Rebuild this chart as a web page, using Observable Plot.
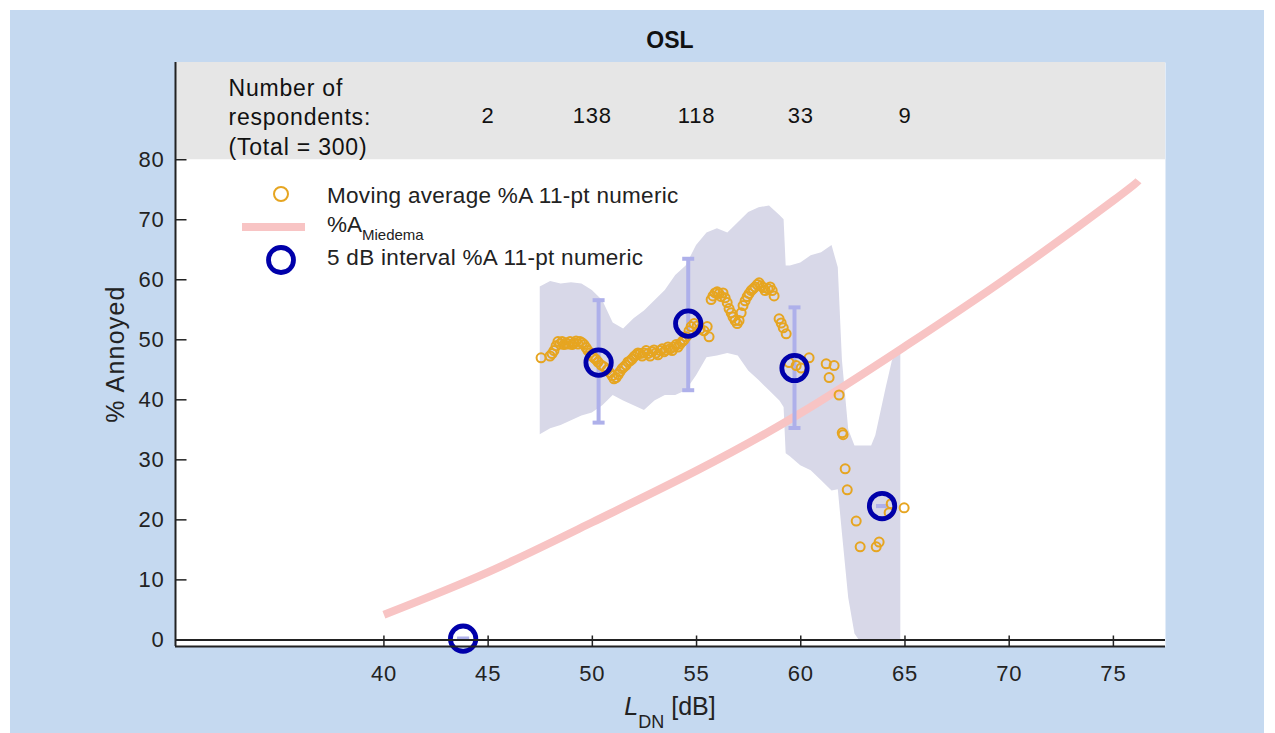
<!DOCTYPE html>
<html>
<head>
<meta charset="utf-8">
<script src="https://cdn.jsdelivr.net/npm/d3@7"></script>
<script src="https://cdn.jsdelivr.net/npm/@observablehq/plot@0.6"></script>
<style>
  html, body { margin: 0; padding: 0; background: #ffffff; }
  body { width: 1275px; height: 733px; position: relative; overflow: hidden;
         font-family: "Liberation Sans", Arial, Helvetica, sans-serif; color: #222; }
  #panel { position: absolute; left: 10px; top: 10px; width: 1254px; height: 723px; background: #c5d9f0; }
  #title { position: absolute; left: 0; top: 28px; width: 1340px; text-align: center;
           font-weight: bold; font-size: 23px; line-height: 24px; color: #111; }
  #chart { position: absolute; left: 0; top: 62px; }
  #chart text { letter-spacing: 0.8px; }
  #overlay { position: absolute; left: 0; top: 0; pointer-events: none; }
</style>
</head>
<body>
<div id="panel"></div>
<div id="title">OSL</div>
<div id="chart"></div>
<svg id="overlay" width="1275" height="733" font-family='"Liberation Sans", Arial, Helvetica, sans-serif' fill="#222"></svg>
<script>
// ---------- data ----------
const xTicks = [40, 45, 50, 55, 60, 65, 70, 75];
const yTicks = [0, 10, 20, 30, 40, 50, 60, 70, 80];

const binX = [45, 50, 55, 60, 65];
const binCounts = [2, 138, 118, 33, 9];

// moving average %A (11-pt numeric)
const maX = [47.54,47.97,48.07,48.16,48.26,48.35,48.45,48.55,48.64,48.74,48.83,48.93,49.03,49.12,49.22,49.31,49.41,49.51,49.60,49.70,
  49.79,49.89,49.99,50.08,50.18,50.27,50.42,50.56,50.71,50.85,50.95,51.04,51.14,51.24,51.33,51.43,51.52,51.62,51.71,51.81,
  51.91,52.00,52.10,52.19,52.29,52.39,52.48,52.58,52.67,52.77,52.87,52.96,53.06,53.15,53.25,53.35,53.44,53.54,53.63,53.73,
  53.83,53.92,54.02,54.11,54.21,54.31,54.40,54.50,54.64,54.74,54.88,55.03,55.17,55.36,55.51,55.60,55.70,55.79,55.89,55.99,
  56.08,56.18,56.27,56.37,56.47,56.56,56.66,56.75,56.85,56.95,57.04,57.14,57.23,57.33,57.43,57.52,57.62,57.71,57.81,57.91,
  58.00,58.10,58.19,58.29,58.43,58.53,58.63,58.72,58.96,59.06,59.16,59.30,59.44,59.78,60.02,60.40,61.22,61.36,61.60,61.84,
  61.99,62.03,62.13,62.23,62.66,62.85,63.62,63.76,64.24,64.34,64.96];
const maY = [47.0,47.3,47.7,48.2,49.0,49.7,49.3,49.7,49.2,49.5,49.3,49.7,49.2,49.5,49.8,49.3,49.7,49.5,49.2,48.7,
  48.2,47.8,47.3,47.0,46.7,46.3,45.8,45.5,45.0,44.5,44.0,43.5,43.7,44.2,44.7,45.2,45.5,45.8,46.3,46.5,
  46.8,47.2,47.5,47.8,47.7,47.3,47.8,48.2,47.7,47.3,48.0,48.3,47.8,47.5,48.2,48.5,48.0,48.3,48.8,48.5,
  48.2,48.8,49.2,48.8,49.3,49.7,50.0,50.5,51.5,52.2,52.7,52.3,51.8,51.5,52.2,50.5,56.7,57.3,57.8,58.0,
  57.7,57.2,57.8,57.0,56.2,55.2,54.5,53.8,53.2,52.7,53.2,54.5,55.7,56.5,57.2,57.7,58.2,58.5,58.8,59.2,
  59.5,59.0,58.7,58.2,58.5,58.8,58.2,57.3,53.5,52.8,52.0,51.0,46.2,45.7,45.3,47.0,46.0,43.7,45.7,40.8,
  34.5,34.2,28.5,25.0,19.8,15.5,15.5,16.3,21.2,22.7,22.0];

// confidence band of the moving average
const bandX  = [47.5,48.0,48.5,49.0,49.5,50.0,50.5,51.0,51.5,52.0,52.5,53.0,53.5,54.0,54.5,55.0,55.5,56.0,56.5,57.0,
  57.5,58.0,58.5,59.0,59.2,59.3,59.5,60.0,60.5,61.0,61.5,61.8,62.0,62.3,62.6,62.8,63.4,63.6,64.1,64.4,64.8];
const bandLo = [34.2,35.2,35.7,36.5,37.3,37.8,39.0,40.7,39.8,39.0,38.2,39.8,40.7,40.7,41.5,44.0,47.0,47.3,47.7,47.3,
  44.8,43.2,41.5,39.8,38.7,31.0,30.5,29.0,28.2,26.5,24.8,25.0,17.7,7.0,1.0,0,0,0,0,0,0];
const bandHi = [58.8,59.7,59.3,59.5,59.3,58.2,56.5,52.8,51.8,53.5,54.8,56.5,58.2,60.7,62.3,65.7,67.8,68.5,67.8,69.5,
  71.2,72.0,72.3,70.7,70.0,62.3,62.3,62.8,64.0,64.5,65.7,62.0,46.5,35.0,32.3,32.3,32.3,34.0,42.0,46.5,48.7];

// 5 dB interval %A with error bars
const ivX  = [43.8, 50.3, 54.6, 59.7, 63.9];
const ivY  = [0.2, 46.2, 52.7, 45.3, 22.3];
const ivLo = [0.2, 36.2, 41.6, 35.3, 22.3];
const ivHi = [0.2, 56.6, 63.5, 55.4, 22.3];

// Miedema curve %A
const miedX = [40, 45, 50, 55, 60, 65, 70, 75, 76.2];
const miedY = [4.2, 11.3, 19.6, 28.2, 37.8, 48.9, 60.6, 73.2, 76.5];

// ---------- build ----------
const xDomain = [30, 77.5];
const yDomain = [-1.1, 96.2];
const headerY = 87.3;
const font = '"Liberation Sans", Arial, Helvetica, sans-serif';

const ma = maX.map((x, i) => ({x, y: maY[i]}));
const band = bandX.map((x, i) => ({x, lo: bandLo[i], hi: bandHi[i]}));
const iv = ivX.map((x, i) => ({x, y: ivY[i], lo: ivLo[i], hi: ivHi[i]}));
const mied = miedX.map((x, i) => ({x, y: miedY[i]}));
const bins = binX.map((x, i) => ({x, n: binCounts[i]}));

const tickUp = {draw(ctx) { ctx.moveTo(0, 0); ctx.lineTo(0, -11); }};
const tickRight = {draw(ctx) { ctx.moveTo(0, 0); ctx.lineTo(11, 0); }};
const capSym = {draw(ctx) { ctx.moveTo(-6, 0); ctx.lineTo(6, 0); }};

const chart = Plot.plot({
  width: 1275,
  height: 671,
  marginLeft: 175,
  marginRight: 110,
  marginTop: 0,
  marginBottom: 87,
  style: {background: "transparent", fontFamily: font, color: "#222", overflow: "visible"},
  x: {domain: xDomain, axis: null},
  y: {domain: yDomain, axis: null},
  marks: [
    Plot.frame({fill: "white", stroke: null}),
    Plot.rect([0], {x1: xDomain[0], x2: xDomain[1], y1: 80, y2: yDomain[1], fill: "#e6e6e6"}),
    Plot.areaY(band, {x: "x", y1: "lo", y2: "hi", fill: "#d8d8e8"}),
    Plot.line(mied, {x: "x", y: "y", curve: "natural", stroke: "#f8c4c4", strokeWidth: 8, strokeLinecap: "butt"}),
    Plot.ruleX(iv, {x: "x", y1: "lo", y2: "hi", stroke: "#aeb0ea", strokeWidth: 4}),
    Plot.dot(iv, {x: "x", y: "lo", symbol: capSym, fill: "none", stroke: "#aeb0ea", strokeWidth: 4}),
    Plot.dot(iv, {x: "x", y: "hi", symbol: capSym, fill: "none", stroke: "#aeb0ea", strokeWidth: 4}),
    Plot.dot(ma, {x: "x", y: "y", r: 4.5, fill: "none", stroke: "#e6a521", strokeWidth: 2}),
    Plot.dot(iv, {x: "x", y: "y", r: 12.7, fill: "none", stroke: "#0000aa", strokeWidth: 4.8}),
    // axes
    Plot.ruleY([0], {stroke: "#222", strokeWidth: 2}),
    Plot.ruleY([yDomain[0]], {stroke: "#222", strokeWidth: 2}),
    Plot.ruleX([xDomain[0]], {stroke: "#222", strokeWidth: 2}),
    Plot.dot(xTicks, {x: d => d, y: yDomain[0], symbol: tickUp, fill: "none", stroke: "#222", strokeWidth: 1.5}),
    Plot.dot(yTicks, {x: xDomain[0], y: d => d, symbol: tickRight, fill: "none", stroke: "#222", strokeWidth: 1.5}),
    Plot.text(xTicks, {x: d => d, y: yDomain[0], dy: 27, text: d => String(d), fontSize: 22, fill: "#222"}),
    Plot.text(yTicks, {x: xDomain[0], y: d => d, dx: -11, textAnchor: "end", text: d => String(d), fontSize: 22, fill: "#222"}),
    // header band
    Plot.text(["Number of\nrespondents:\n(Total = 300)"], {x: xDomain[0], y: headerY, dx: 53, textAnchor: "start", lineHeight: 1.3, fontSize: 23, fill: "#111"}),
    Plot.text(bins, {x: "x", y: headerY, text: d => String(d.n), fontSize: 22, fill: "#111"})
  ]
});
document.getElementById("chart").appendChild(chart);

// ---------- legend, axis titles (overlay) ----------
const ov = d3.select("#overlay");
ov.append("circle").attr("cx", 281).attr("cy", 194).attr("r", 7).attr("fill", "none").attr("stroke", "#e6a521").attr("stroke-width", 2);
ov.append("line").attr("x1", 242).attr("x2", 305).attr("y1", 227).attr("y2", 227).attr("stroke", "#f8c4c4").attr("stroke-width", 8);
ov.append("circle").attr("cx", 281).attr("cy", 260).attr("r", 12.5).attr("fill", "none").attr("stroke", "#0000aa").attr("stroke-width", 4.8);
ov.append("text").attr("x", 327).attr("y", 203).attr("font-size", 22.5).attr("letter-spacing", 0.3).text("Moving average %A 11-pt numeric");
const t2 = ov.append("text").attr("x", 327).attr("y", 232).attr("font-size", 22.5);
t2.append("tspan").text("%A");
t2.append("tspan").attr("font-size", 15).attr("dy", 8).text("Miedema");
ov.append("text").attr("x", 327).attr("y", 264.5).attr("font-size", 22.5).attr("letter-spacing", 0.3).text("5 dB interval %A 11-pt numeric");
ov.append("text")
  .attr("transform", "translate(115,354) rotate(-90)")
  .attr("text-anchor", "middle").attr("dy", "0.35em")
  .attr("font-size", 25).attr("letter-spacing", 1.2)
  .text("% Annoyed");
const xl = ov.append("text").attr("x", 670).attr("y", 715).attr("text-anchor", "middle").attr("font-size", 25);
xl.append("tspan").attr("font-style", "italic").text("L");
xl.append("tspan").attr("font-size", 18).attr("dy", 13).text("DN");
xl.append("tspan").attr("dy", -13).text(" [dB]");
</script>
</body>
</html>
